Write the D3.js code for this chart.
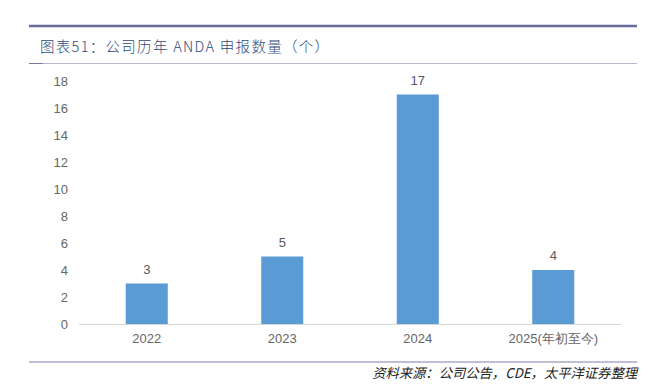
<!DOCTYPE html>
<html><head><meta charset="utf-8">
<script src="https://cdn.jsdelivr.net/npm/d3@7"></script>
<style>body{margin:0;background:#fff}</style>
</head><body>
<svg id="c" width="660" height="390"></svg>
<script>
const categories = ["2022", "2023", "2024", "2025(年初至今)"];
const values = [3, 5, 17, 4];
const yTicks = [0, 2, 4, 6, 8, 10, 12, 14, 16, 18];
const title = "图表51：公司历年 ANDA 申报数量（个）";
const source = "资料来源：公司公告，CDE，太平洋证券整理";

const svg = d3.select("#c");
const m = {left: 79, right: 621, top: 81, bottom: 324};

// decorative lines
svg.append("line").attr("x1", 29).attr("x2", 637).attr("y1", 26).attr("y2", 26)
  .attr("stroke", "#6a6a9c").attr("stroke-width", 2.5);
svg.append("line").attr("x1", 29).attr("x2", 637).attr("y1", 63.5).attr("y2", 63.5)
  .attr("stroke", "#b8b8d4").attr("stroke-width", 1);
svg.append("line").attr("x1", 29).attr("x2", 43).attr("y1", 63.5).attr("y2", 63.5)
  .attr("stroke", "#7a7aa8").attr("stroke-width", 1);
svg.append("line").attr("x1", 29).attr("x2", 637).attr("y1", 362).attr("y2", 362)
  .attr("stroke", "#a8a8cc").attr("stroke-width", 1.5);

svg.append("text").attr("x", 40).attr("y", 51.5).text(title)
  .attr("font-family", "'Noto Sans CJK SC', sans-serif").attr("font-size", 14.5)
  .attr("letter-spacing", 1.3).attr("font-weight", 300)
  .attr("fill", "#2d4a7c");

svg.append("text").attr("x", 637).attr("y", 377.5).text(source)
  .attr("text-anchor", "end").attr("font-style", "italic")
  .attr("font-family", "'Noto Sans CJK SC', sans-serif").attr("font-size", 13.3)
  .attr("fill", "#222");

const x = d3.scaleBand().domain(categories).range([m.left, m.right]).paddingInner(0.69).paddingOuter(0.345);
const y = d3.scaleLinear().domain([0, 18]).range([m.bottom, m.top]);

const font = "'Liberation Sans', Arial, sans-serif";

// y axis labels
const ya = svg.append("g").attr("transform", `translate(${m.left - 11},0)`)
  .call(d3.axisLeft(y).tickValues(yTicks).tickSize(0).tickPadding(0));
ya.select(".domain").remove();
ya.selectAll("text").attr("font-family", font).attr("font-size", 13).attr("fill", "#666");

// bars
svg.selectAll("rect.bar").data(values).join("rect").attr("class", "bar")
  .attr("x", (d, i) => x(categories[i])).attr("width", x.bandwidth())
  .attr("y", d => y(d)).attr("height", d => y(0) - y(d))
  .attr("fill", "#5b9bd5");

// value labels
svg.selectAll("text.val").data(values).join("text").attr("class", "val")
  .attr("x", (d, i) => x(categories[i]) + x.bandwidth() / 2)
  .attr("y", d => y(d) - 10).attr("text-anchor", "middle")
  .attr("font-family", font).attr("font-size", 13).attr("fill", "#595959")
  .text(d => d);

// x axis
const xa = svg.append("g").attr("transform", `translate(0,${m.bottom})`)
  .call(d3.axisBottom(x).tickSize(0).tickPadding(10));
xa.select(".domain").attr("stroke", "#d9d9d9").attr("d", `M${m.left},0.5H${m.right}`);
xa.selectAll("text").attr("font-family", font).attr("font-size", 13).attr("fill", "#666");
</script>
</body></html>
